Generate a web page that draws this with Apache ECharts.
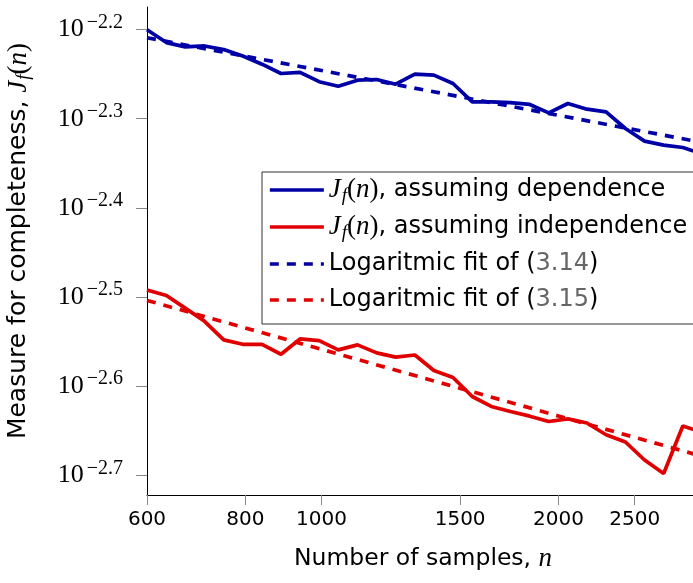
<!DOCTYPE html>
<html><head><meta charset="utf-8">
<script src="https://cdn.jsdelivr.net/npm/echarts@6/dist/echarts.min.js"></script>
<style>html,body{margin:0;padding:0;background:#fff;overflow:hidden}#c{width:693px;height:583px}</style>
</head><body><div id="c"></div>
<script>
const sampleSizes = [600, 635, 671, 710, 751, 794, 840, 888, 939, 993, 1050, 1111, 1175, 1242, 1314, 1389, 1469, 1554, 1643, 1738, 1839, 1944, 2056, 2174, 2299, 2433, 2573, 2721, 2878, 3044];
const dependence = [0.006307, 0.006101, 0.006033, 0.006048, 0.005992, 0.005894, 0.005770, 0.005633, 0.005648, 0.005515, 0.005451, 0.005536, 0.005546, 0.005479, 0.005623, 0.005609, 0.005489, 0.005235, 0.005235, 0.005224, 0.005200, 0.005088, 0.005213, 0.005137, 0.005101, 0.004887, 0.004730, 0.004681, 0.004653, 0.004577];
const independence = [0.003221, 0.003175, 0.003073, 0.002970, 0.002831, 0.002799, 0.002799, 0.002728, 0.002838, 0.002826, 0.002759, 0.002795, 0.002738, 0.002708, 0.002723, 0.002616, 0.002569, 0.002446, 0.002384, 0.002353, 0.002325, 0.002293, 0.002309, 0.002284, 0.002216, 0.002175, 0.002076, 0.002005, 0.002267, 0.002230];
const fitN = [600, 1000, 2000, 3000];
const fitDependence = [0.006177, 0.005676, 0.005056, 0.004726];
const fitIndependence = [0.003135, 0.002763, 0.002326, 0.002104];
const xTicks = [600, 800, 1000, 1500, 2000, 2500];
const yTickExponents = [-2.7, -2.6, -2.5, -2.4, -2.3, -2.2];
const seriesNames = ['dep', 'indep', 'fit314', 'fit315'];

const BLUE = '#0000a6', RED = '#e00000';
const SANS = 'DejaVu Sans', SERIF = 'Liberation Serif';
const mathRich = {
  J: {fontFamily: SERIF, fontStyle: 'italic', fontSize: 27, color: '#000'},
  sub: {fontFamily: SERIF, fontStyle: 'italic', fontSize: 19, color: '#000', padding: [11, 0, 0, 1]},
  p: {fontFamily: SERIF, fontSize: 27, color: '#000'},
  n: {fontFamily: SERIF, fontStyle: 'italic', fontSize: 27, color: '#000'},
  g: {fontFamily: SANS, fontSize: 24, color: '#666'},
  t: {fontFamily: SANS, fontSize: 24, color: '#000'}
};
const jf = '{J|J}{sub|f}{p|(}{n|n}{p|)}';
const legendText = {
  dep: jf + '{t|, assuming dependence}',
  indep: jf + '{t|, assuming independence}',
  fit314: '{t|Logaritmic fit of (}{g|3.14}{t|)}',
  fit315: '{t|Logaritmic fit of (}{g|3.15}{t|)}'
};
const pair = (xs, ys) => xs.map((x, i) => [x, ys[i]]);

const chart = echarts.init(document.getElementById('c'), null, {renderer: 'canvas'});
chart.setOption({
  animation: false,
  backgroundColor: '#fff',
  grid: {left: 147, top: 7, right: 0, height: 488, containLabel: false, outerBoundsMode: 'none'},
  xAxis: {
    type: 'log', logBase: 10, min: 600, max: 2965,
    name: 'Number of samples, {n|n}', nameLocation: 'middle', nameGap: 50,
    nameTextStyle: {fontFamily: SANS, fontSize: 23.5, color: '#000', padding: [0, 0, 0, 6], rich: mathRich},
    axisLine: {show: true, onZero: false, lineStyle: {color: '#000', width: 1}},
    axisTick: {show: true, length: 10, customValues: xTicks, lineStyle: {color: '#888', width: 1}},
    axisLabel: {customValues: xTicks, formatter: v => String(Math.round(v)), fontFamily: SANS, fontSize: 20, color: '#000', margin: 15},
    splitLine: {show: false}, minorTick: {show: false}
  },
  yAxis: {
    type: 'log', logBase: 10, min: Math.pow(10, -2.722), max: Math.pow(10, -2.1747),
    name: 'Measure for completeness, ' + jf, nameLocation: 'middle', nameRotate: 90, nameGap: 114,
    nameTextStyle: {fontFamily: SANS, fontSize: 25, color: '#000', padding: [0, 0, 0, 20], rich: Object.assign({}, mathRich, {
      J: {fontFamily: SERIF, fontStyle: 'italic', fontSize: 27, color: '#000'},
      p: {fontFamily: SERIF, fontSize: 27, color: '#000'},
      n: {fontFamily: SERIF, fontStyle: 'italic', fontSize: 27, color: '#000'},
      sub: {fontFamily: SERIF, fontStyle: 'italic', fontSize: 19, color: '#000', padding: [10, 0, 0, 1]}
    })},
    axisLine: {show: true, onZero: false, lineStyle: {color: '#000', width: 1}},
    axisTick: {show: true, length: 11, customValues: yTickExponents.map(e => Math.pow(10, e)), lineStyle: {color: '#888', width: 1}},
    axisLabel: {
      customValues: yTickExponents.map(e => Math.pow(10, e)),
      formatter: v => '{b|10}{s|\u2212' + Math.abs(Math.log10(v)).toFixed(1) + '}',
      margin: 24,
      rich: {
        b: {fontFamily: SERIF, fontSize: 26, color: '#000'},
        s: {fontFamily: SERIF, fontSize: 20, color: '#000', padding: [0, 0, 14, 3]}
      }
    },
    splitLine: {show: false}, minorTick: {show: false}
  },
  legend: {
    data: seriesNames, orient: 'vertical', left: 262, top: 172,
    backgroundColor: '#fff', borderColor: '#333', borderWidth: 1, borderRadius: 0,
    padding: [4, 60, 10, 6], itemWidth: 54, itemHeight: 14, itemGap: 8,
    itemStyle: {opacity: 0},
    lineStyle: {width: 3.7},
    formatter: name => legendText[name],
    textStyle: {fontFamily: SANS, fontSize: 24, color: '#000', lineHeight: 28, rich: mathRich}
  },
  series: [
    {name: 'dep', type: 'line', data: pair(sampleSizes, dependence), showSymbol: false, symbol: 'none',
     lineStyle: {color: BLUE, width: 3.7}, itemStyle: {color: BLUE}, z: 3},
    {name: 'indep', type: 'line', data: pair(sampleSizes, independence), showSymbol: false, symbol: 'none',
     lineStyle: {color: RED, width: 3.7}, itemStyle: {color: RED}, z: 3},
    {name: 'fit314', type: 'line', data: pair(fitN, fitDependence), showSymbol: false, symbol: 'none',
     lineStyle: {color: BLUE, width: 3.7, type: [9, 8]}, itemStyle: {color: BLUE}, z: 2},
    {name: 'fit315', type: 'line', data: pair(fitN, fitIndependence), showSymbol: false, symbol: 'none',
     lineStyle: {color: RED, width: 3.7, type: [9, 8]}, itemStyle: {color: RED}, z: 2}
  ]
});
</script></body></html>
